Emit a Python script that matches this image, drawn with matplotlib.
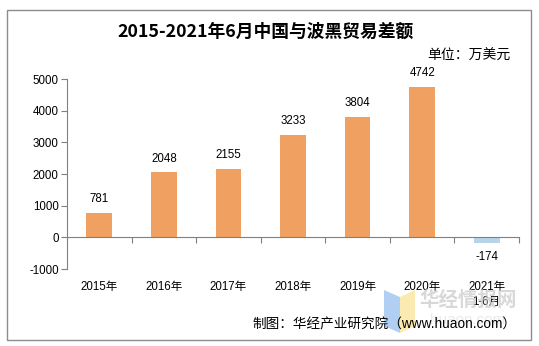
import matplotlib
matplotlib.use("Agg")
import matplotlib.pyplot as plt
from matplotlib.patches import Rectangle, Polygon
from matplotlib.transforms import blended_transform_factory, offset_copy

plt.rcParams['font.family'] = ['Liberation Sans', 'Noto Sans CJK SC', 'DejaVu Sans']

categories = ['2015年', '2016年', '2017年', '2018年', '2019年', '2020年', '2021年\n1-6月']
values = [781, 2048, 2155, 3233, 3804, 4742, -174]
yticks = [-1000, 0, 1000, 2000, 3000, 4000, 5000]

pos_color = '#F0A060'
neg_color = '#B8D4E8'
grey = '#808080'

fig = plt.figure(figsize=(5.39, 3.46), dpi=100)
fig.patches.append(Rectangle((7/539, 6/346), 524/539, 330/346, transform=fig.transFigure,
                             fill=False, edgecolor='#8c8c8c', linewidth=1.0))

ax = fig.add_axes([67/539, 77/346, 452/539, 190/346])
x = list(range(len(values)))
colors = [pos_color if v >= 0 else neg_color for v in values]
ax.bar(x, values, width=0.4, color=colors, zorder=2)

ax.set_xlim(-0.5, len(values) - 0.5)
ax.set_ylim(-1000, 5000)
ax.set_yticks(yticks)
ax.set_yticklabels([str(t) for t in yticks], fontsize=8.3)
ax.tick_params(axis='y', direction='out', length=4, color=grey, pad=2)

for s in ['top', 'right']:
    ax.spines[s].set_visible(False)
ax.spines['left'].set_color(grey)
ax.spines['bottom'].set_color(grey)
ax.spines['bottom'].set_position(('data', 0))
ax.set_xticks([i - 0.5 for i in range(1, len(values))] + [len(values) - 0.5])
ax.set_xticklabels([])
ax.tick_params(axis='x', direction='out', length=4, color=grey)

# category labels along the bottom edge
btrans = blended_transform_factory(ax.transData, ax.transAxes)
for i, lab in enumerate(categories):
    ax.text(i, 0, lab, transform=offset_copy(btrans, fig=fig, y=-12, units='dots'),
            ha='center', va='top', fontsize=8.3, linespacing=1.3)

# value labels
for i, v in enumerate(values):
    off = 10 if v >= 0 else -10
    ax.annotate(str(v), (i, v), xytext=(0, off), textcoords='offset points',
                ha='center', va='center', fontsize=8.3)

fig.text(266/539, 1 - 32/346, '2015-2021年6月中国与波黑贸易差额', ha='center', va='center',
         fontsize=12.8, fontweight='bold', family=['Noto Sans CJK SC'])
fig.text(510/539, 1 - 56/346, '单位：万美元', ha='right', va='center', fontsize=10,
         family=['Noto Sans CJK SC'])

# watermark
fig.patches.append(Polygon([(384/539, 1-290/346), (400/539, 1-297/346), (400/539, 1-333/346),
                            (384/539, 1-326/346)], closed=True, transform=fig.transFigure,
                           facecolor='#9ec4f0', edgecolor='none', alpha=0.8))
fig.patches.append(Polygon([(400/539, 1-297/346), (415/539, 1-290/346), (415/539, 1-326/346),
                            (400/539, 1-333/346)], closed=True, transform=fig.transFigure,
                           facecolor='#fbe9a8', edgecolor='none', alpha=0.9))
fig.text(468/539, 1 - 300/346, '华经情报网', ha='center', va='center', fontsize=14,
         fontweight='bold', color='#c8c8c8', alpha=0.7, family=['Noto Sans CJK SC'])
fig.text(468/539, 1 - 320/346, 'huaon.com', ha='center', va='center', fontsize=11,
         color='#dcdcdc', alpha=0.6)

fig.text(516/539, 1 - 325/346, '制图：华经产业研究院（www.huaon.com）', ha='right', va='center',
         fontsize=9.8)

fig.savefig('out.png', dpi=100)
